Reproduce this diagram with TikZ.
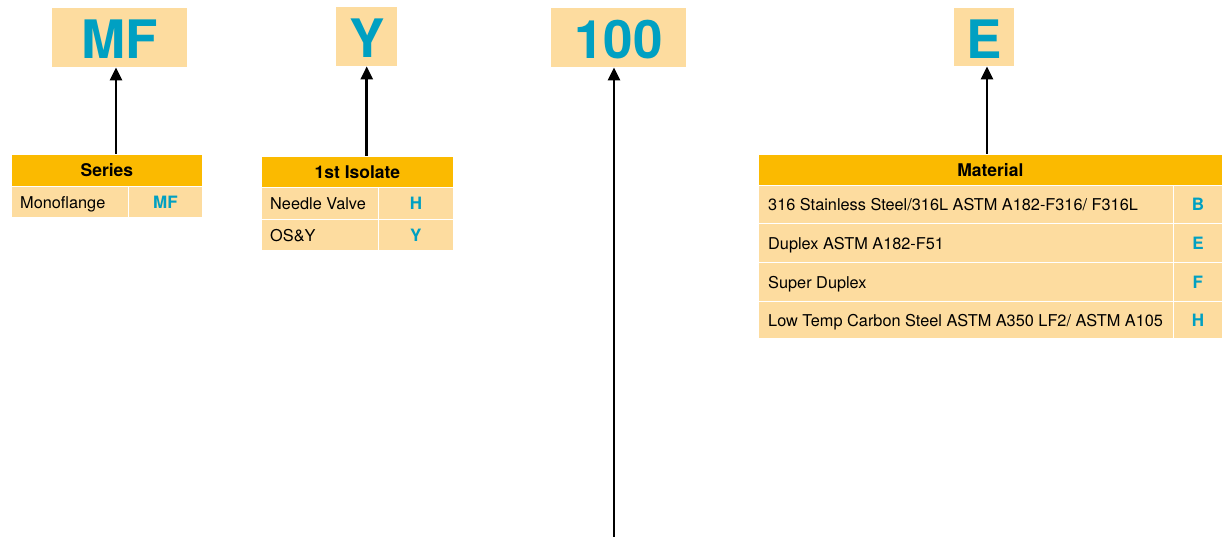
\documentclass[tikz,border=0pt]{standalone}
\usepackage{fontspec}
\setmainfont{TeX Gyre Heros}
\usetikzlibrary{arrows.meta}
\definecolor{hdr}{HTML}{FBBA00}
\definecolor{cell}{HTML}{FDDC9F}
\definecolor{tealc}{HTML}{00A0C2}
\tikzset{
  big/.style={fill=cell, text=tealc, font=\fontsize{53}{53}\selectfont\bfseries, inner sep=0pt, text height=42pt, text depth=0pt, anchor=north west},
  hcell/.style={fill=hdr, draw=white, line width=0.8pt, font=\fontsize{17.5}{20}\selectfont\bfseries, inner sep=0pt, anchor=north west},
  lcell/.style={fill=cell, draw=white, line width=0.8pt, inner sep=0pt, anchor=north west},
  ltext/.style={font=\fontsize{16.3}{19}\selectfont, inner sep=0pt, anchor=base west},
  vcell/.style={fill=cell, draw=white, line width=0.8pt, text=tealc, font=\fontsize{17}{20}\selectfont\bfseries, inner sep=0pt, anchor=north west},
  arr/.style={line width=2.5pt, -{Triangle[length=13pt, width=12pt]}}
}
\begin{document}
\begin{tikzpicture}[x=1pt, y=-1pt]
\useasboundingbox (0,0) rectangle (1222,537);
% big code boxes
\node[big, minimum width=135pt, minimum height=59pt] (mf) at (52,8) {MF};
\node[big, minimum width=61pt, minimum height=59pt] (y) at (336,7) {Y};
\node[big, minimum width=135pt, minimum height=59pt] (num) at (551,8) {100};
\node[big, minimum width=60pt, minimum height=58pt] (e) at (954,8) {E};
% Series table
\node[hcell, minimum width=191pt, minimum height=32pt] (sh) at (11,154) {Series};
\node[lcell, minimum width=117pt, minimum height=31pt] (s1) at (11,186) {};
\node[ltext] (s1t) at ([shift={(9,6.5)}]s1.west) {Monoflange};
\node[vcell, minimum width=74pt, minimum height=31pt] (s1v) at (128,186) {MF};
% 1st Isolate table
\node[hcell, minimum width=192pt, minimum height=31pt] (ih) at (261,156) {1st Isolate};
\node[lcell, minimum width=117pt, minimum height=32pt] (i1) at (261,187) {};
\node[ltext] (i1t) at ([shift={(9,6.5)}]i1.west) {Needle Valve};
\node[vcell, minimum width=75pt, minimum height=32pt] (i1v) at (378,187) {H};
\node[lcell, minimum width=117pt, minimum height=31pt] (i2) at (261,219) {};
\node[ltext] (i2t) at ([shift={(9,6.5)}]i2.west) {OS\&Y};
\node[vcell, minimum width=75pt, minimum height=31pt] (i2v) at (378,219) {Y};
% Material table
\node[hcell, minimum width=464pt, minimum height=31pt] (mh) at (758,154) {Material};
\node[lcell, minimum width=415pt, minimum height=38pt] (m1) at (758,185) {};
\node[ltext] (m1t) at ([shift={(10,6.5)}]m1.west) {316 Stainless Steel/316L ASTM A182-F316/ F316L};
\node[vcell, minimum width=49pt, minimum height=38pt] (m1v) at (1173,185) {B};
\node[lcell, minimum width=415pt, minimum height=39pt] (m2) at (758,223) {};
\node[ltext] (m2t) at ([shift={(10,6.5)}]m2.west) {Duplex ASTM A182-F51};
\node[vcell, minimum width=49pt, minimum height=39pt] (m2v) at (1173,223) {E};
\node[lcell, minimum width=415pt, minimum height=39pt] (m3) at (758,262) {};
\node[ltext] (m3t) at ([shift={(10,6.5)}]m3.west) {Super Duplex};
\node[vcell, minimum width=49pt, minimum height=39pt] (m3v) at (1173,262) {F};
\node[lcell, minimum width=415pt, minimum height=37pt] (m4) at (758,301) {};
\node[ltext] (m4t) at ([shift={(10,6.5)}]m4.west) {Low Temp Carbon Steel ASTM A350 LF2/ ASTM A105};
\node[vcell, minimum width=49pt, minimum height=37pt] (m4v) at (1173,301) {H};
% connectors
\coordinate (numfoot) at (614,537);
\draw[arr] (sh.north -| 116,0) -- (mf.south -| 116,0);
\draw[arr] (ih.north -| y.south) -- (y.south);
\draw[arr] (numfoot) -- (num.south -| numfoot);
\draw[arr] (mh.north -| 987,0) -- (e.south -| 987,0);
\end{tikzpicture}
\end{document}
